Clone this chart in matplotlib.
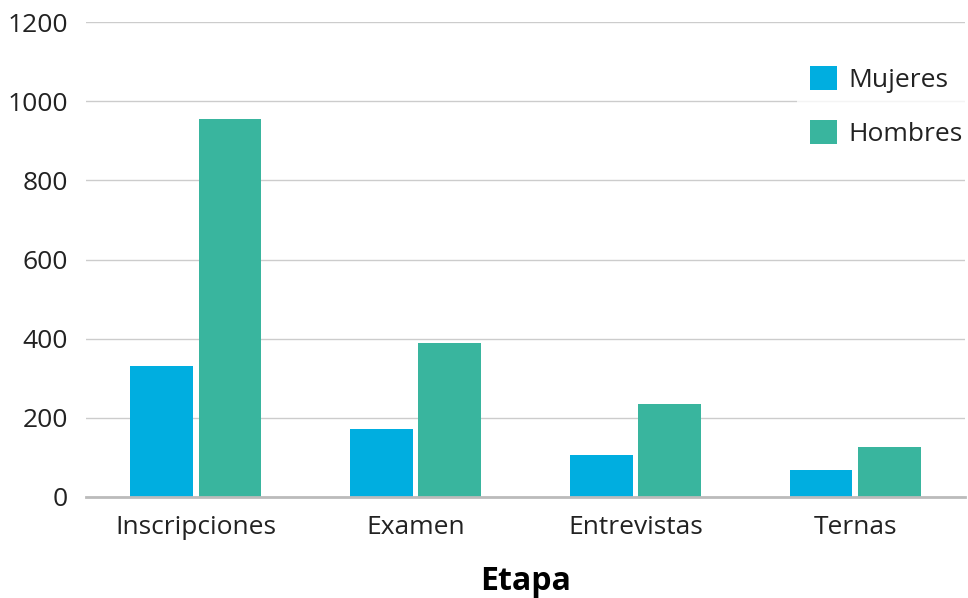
import numpy as np
import matplotlib.pyplot as plt

plt.rcParams['font.family'] = ['Open Sans', 'DejaVu Sans']

etapas = ['Inscripciones', 'Examen', 'Entrevistas', 'Ternas']
mujeres = [330, 173, 105, 69]
hombres = [956, 388, 236, 127]
y_ticks = [0, 200, 400, 600, 800, 1000, 1200]

c_muj = '#00aee0'
c_hom = '#39b59e'

fig = plt.figure(figsize=(9.68, 5.98), dpi=100)
ax = fig.add_axes([86 / 968, 1 - 497 / 598, 879 / 968, 475 / 598])

x = np.arange(len(etapas))
w = 0.285
ax.bar(x - 0.155, mujeres, w, color=c_muj, label='Mujeres', zorder=3)
ax.bar(x + 0.155, hombres, w, color=c_hom, label='Hombres', zorder=3)

ax.set_xlim(-0.5, 3.5)
ax.set_ylim(0, 1200)
ax.set_yticks(y_ticks)
ax.set_xticks(x)
ax.set_xticklabels(etapas)
ax.tick_params(axis='both', length=0, labelsize=19, labelcolor='#222222')
ax.tick_params(axis='y', pad=13)
ax.tick_params(axis='x', pad=13)

ax.grid(axis='y', color='#cccccc', linewidth=1, zorder=0)
for s in ['left', 'right', 'top']:
    ax.spines[s].set_visible(False)
ax.spines['bottom'].set_color('#bbbbbb')
ax.spines['bottom'].set_linewidth(2)
ax.spines['bottom'].set_zorder(4)

ax.set_xlabel('Etapa', fontsize=23, fontweight='bold', labelpad=18)

leg = fig.legend(loc='upper left', bbox_to_anchor=(797 / 968, 1 - 53 / 598),
                 frameon=True, fontsize=19, handlelength=1.0, handleheight=1.0,
                 handletextpad=0.45, labelspacing=1.02, borderpad=0.5,
                 borderaxespad=0, fancybox=False)
leg.get_frame().set_edgecolor('none')
leg.get_frame().set_facecolor('white')
leg.set_zorder(5)
for t in leg.get_texts():
    t.set_color('#222222')

fig.savefig('out.png', dpi=100)
